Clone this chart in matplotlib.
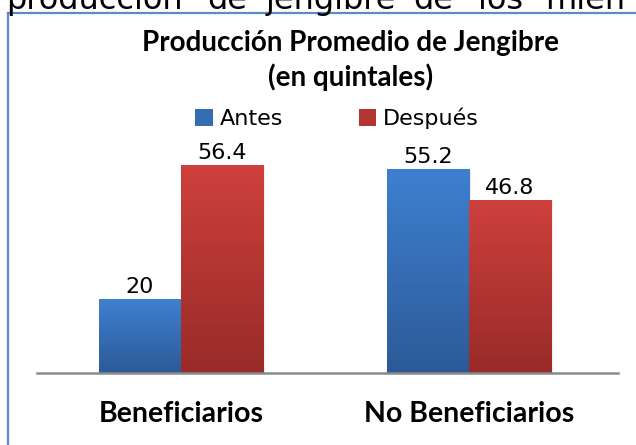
import numpy as np
import matplotlib.pyplot as plt
from matplotlib.patches import Patch
from matplotlib.lines import Line2D

# data
categories = ["Beneficiarios", "No Beneficiarios"]
series_names = ["Antes", "Después"]
antes = [20, 55.2]
despues = [56.4, 46.8]
title_lines = ["Producción Promedio de Jengibre", "(en quintales)"]
# words of the cut-off paragraph line above the chart
top_words = ["producción", "de", "jengibre", "de", "los", "mien"]
top_word_x = [6, 207, 266, 413, 478, 545]

W, H = 636, 445
fig = plt.figure(figsize=(W / 100, H / 100), dpi=100)

blue_top, blue_bot = np.array([62, 128, 208]) / 255, np.array([44, 90, 152]) / 255
red_top, red_bot = np.array([206, 64, 60]) / 255, np.array([152, 43, 41]) / 255

ax = fig.add_axes([37 / W, (H - 373) / H, (618 - 37) / W, (373 - 139) / H])

x = np.arange(len(categories))
bw = 0.285
b1 = ax.bar(x - bw / 2, antes, bw, color="none", zorder=3)
b2 = ax.bar(x + bw / 2, despues, bw, color="none", zorder=3)


def gradient_fill(bars, top, bot):
    grad = np.linspace(0, 1, 100)[:, None, None]
    img = top * (1 - grad) + bot * grad
    for r in bars:
        x0, w, h = r.get_x(), r.get_width(), r.get_height()
        # soft shadow
        ax.add_patch(plt.Rectangle((x0 + 0.004, -0.3), w + 0.004, h + 0.3,
                                   color="#000000", alpha=0.08, zorder=1, lw=0))
        ax.imshow(img, extent=[x0, x0 + w, 0, h], aspect="auto", zorder=2,
                  interpolation="bilinear")


gradient_fill(b1, blue_top, blue_bot)
gradient_fill(b2, red_top, red_bot)

for bars in (b1, b2):
    ax.bar_label(bars, labels=[f"{v:g}" for v in bars.datavalues], padding=2,
                 fontsize=16, family="DejaVu Sans", color="black")

ax.set_xlim(-0.5, 1.517)
ax.set_ylim(0, (373 - 139) / 3.68)
ax.axhline(0, color="#8a8a8a", lw=1.8, zorder=4, clip_on=False)
for s in ax.spines.values():
    s.set_visible(False)
ax.set_yticks([])
ax.set_xticks(x, categories)
ax.tick_params(axis="x", length=0, pad=20)
for t in ax.get_xticklabels():
    t.set_fontsize(20.5)
    t.set_fontweight("bold")
    t.set_family("Lato")

# title
fig.text(351 / W, (H - 43) / H, title_lines[0], ha="center", va="center",
         fontsize=20, fontweight="bold", family="Lato")
fig.text(351 / W, (H - 77) / H, title_lines[1], ha="center", va="center",
         fontsize=20, fontweight="bold", family="Lato")

# legend
handles = [Patch(facecolor=(blue_top + blue_bot) / 2, edgecolor="none"),
           Patch(facecolor=(red_top + red_bot) / 2, edgecolor="none")]
fig.legend(handles, series_names, loc="center", bbox_to_anchor=(337 / W, (H - 118) / H),
           ncol=2, frameon=False, handlelength=0.8, handleheight=0.8,
           handletextpad=0.3, columnspacing=3.4, borderaxespad=0,
           prop={"family": "DejaVu Sans", "size": 16})

# frame of the chart box
fig.add_artist(Line2D([8 / W, 8 / W], [0, (H - 13) / H], color="#5b8bc9", lw=1.6))
fig.add_artist(Line2D([8 / W, 1], [(H - 13) / H, (H - 13) / H], color="#5b8bc9", lw=1.6))

# cut-off paragraph text at the very top
for w, px in zip(top_words, top_word_x):
    fig.text(px / W, (H - 9) / H, w, ha="left", va="baseline", fontsize=23,
             family="DejaVu Sans", color="black")

fig.savefig("out.png", dpi=100)
